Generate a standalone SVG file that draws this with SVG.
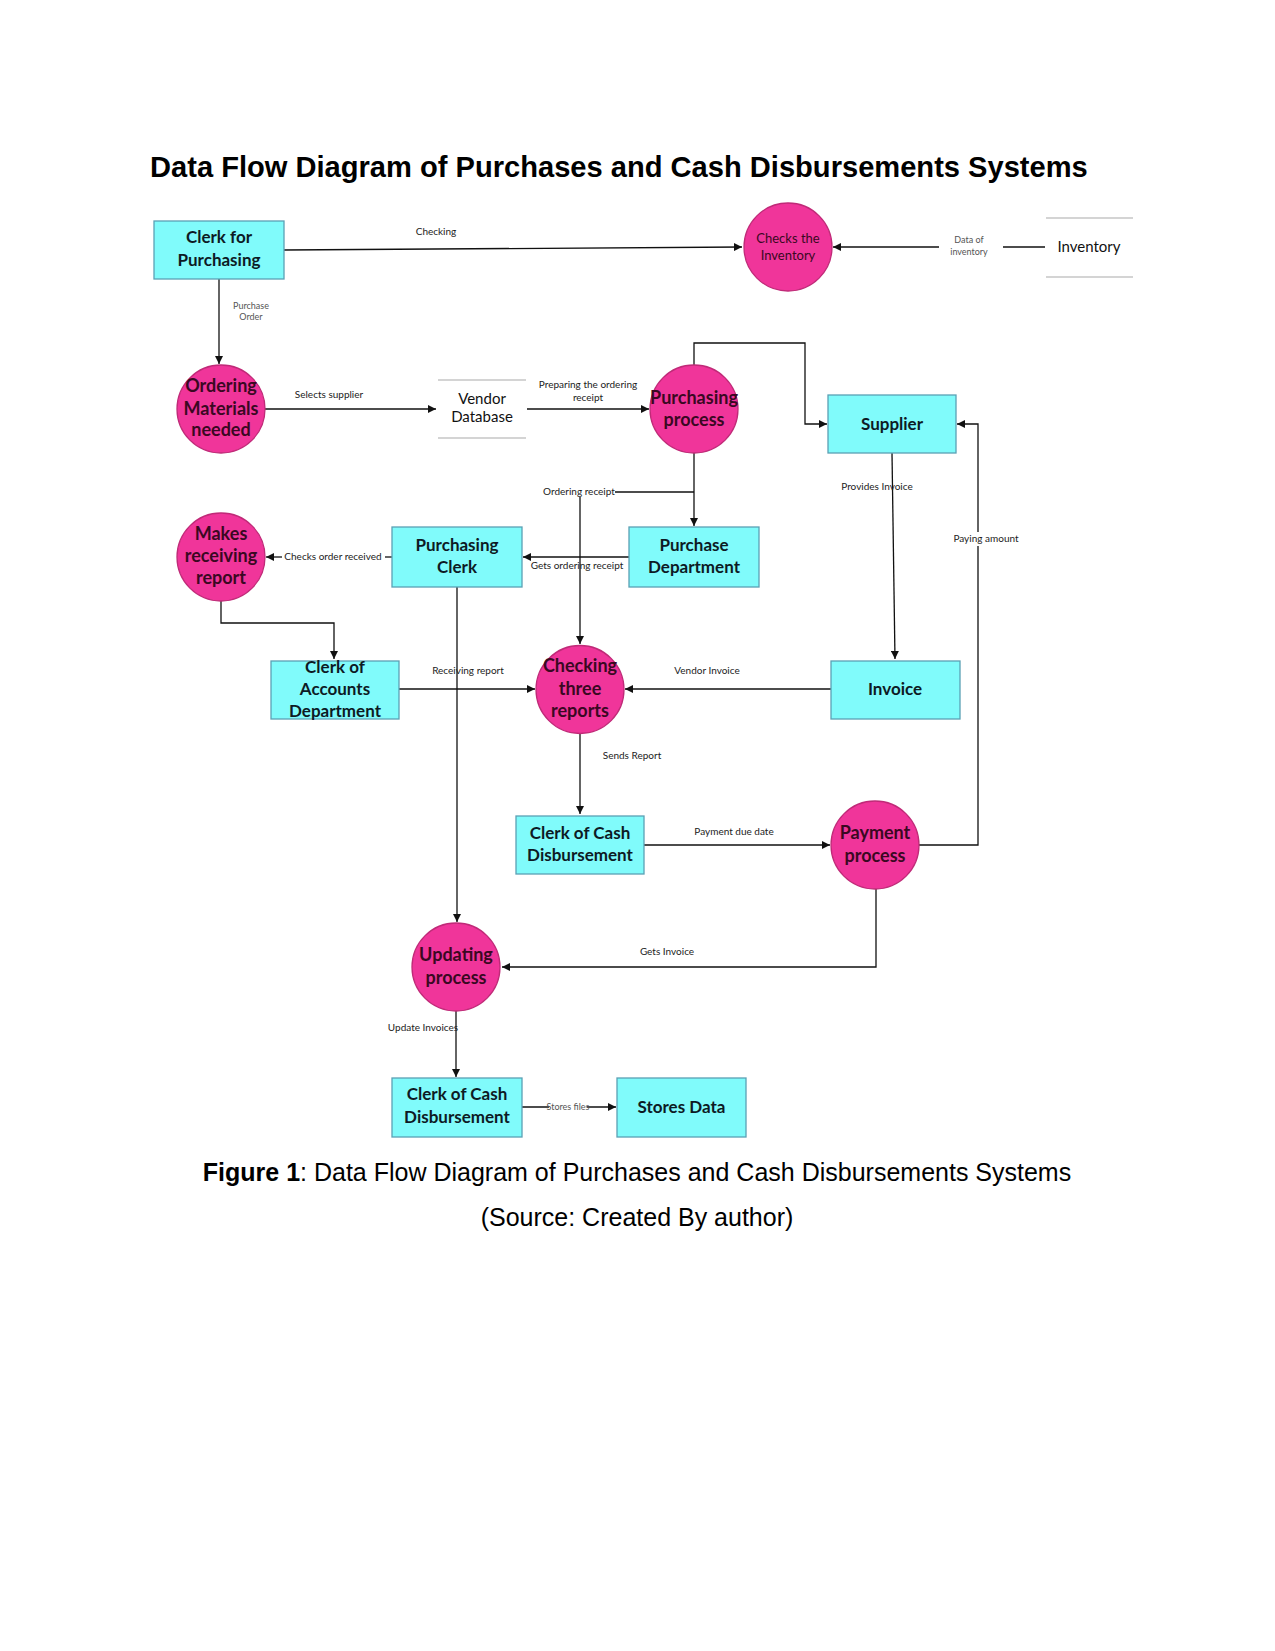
<svg xmlns="http://www.w3.org/2000/svg" width="1275" height="1651" viewBox="0 0 1275 1651">
<defs>
<marker id="arr" viewBox="0 0 10 10" refX="10" refY="5" markerWidth="8" markerHeight="8" markerUnits="userSpaceOnUse" orient="auto">
<path d="M0,0 L10,5 L0,10 z" fill="#111"/>
</marker>
<style>
.box{fill:#80FBFB;stroke:#5aa0b4;stroke-width:1.3}
.proc{fill:#F0359A;stroke:#c02a78;stroke-width:1.3}
.bt{font-family:Lato,"Open Sans",sans-serif;font-weight:bold;font-size:17px;fill:#0d1a24;text-anchor:middle}
.ct{font-family:Lato,"Open Sans",sans-serif;font-weight:bold;font-size:18px;fill:#3a0822;text-anchor:middle}
.ctl{font-family:Lato,"Open Sans",sans-serif;font-size:13px;fill:#3a0822;text-anchor:middle}
.ds{stroke:#aaa;stroke-width:1.2}
.dt{font-family:Lato,"Open Sans",sans-serif;font-size:15px;fill:#111;text-anchor:middle}
.ln{fill:none;stroke:#111;stroke-width:1.3}
.lb{font-family:Lato,"Open Sans",sans-serif;font-size:10px;fill:#222;text-anchor:middle}
.lbs{font-family:Lato,"Open Sans",sans-serif;font-size:9px;fill:#555;text-anchor:middle}
.title{font-family:"Liberation Sans",Arial,sans-serif;font-weight:bold;font-size:29.1px;fill:#000}
.cap{font-family:"Liberation Sans",Arial,sans-serif;font-size:25px;fill:#000;text-anchor:middle}
</style>
</defs>
<rect width="1275" height="1651" fill="#fff"/>
<text class="title" x="150" y="177">Data Flow Diagram of Purchases and Cash Disbursements Systems</text>

<g id="connectors">
<line class="ln" x1="284" y1="250" x2="742" y2="247" marker-end="url(#arr)"/>
<text class="lb" x="436" y="235">Checking</text>
<line class="ln" x1="1045" y1="247" x2="1003" y2="247"/>
<line class="ln" x1="939" y1="247" x2="833" y2="247" marker-end="url(#arr)"/>
<text class="lbs" x="969" y="243">Data of</text>
<text class="lbs" x="969" y="255">inventory</text>
<line class="ln" x1="219" y1="279" x2="219" y2="364" marker-end="url(#arr)"/>
<text class="lbs" x="251" y="309">Purchase</text>
<text class="lbs" x="251" y="320">Order</text>
<line class="ln" x1="265" y1="409" x2="436" y2="409" marker-end="url(#arr)"/>
<text class="lb" x="329" y="398">Selects supplier</text>
<line class="ln" x1="527" y1="409" x2="649" y2="409" marker-end="url(#arr)"/>
<text class="lb" x="588" y="388">Preparing the ordering</text>
<text class="lb" x="588" y="401">receipt</text>
<polyline class="ln" points="694,365 694,343 805,343 805,424 827,424" marker-end="url(#arr)"/>
<line class="ln" x1="694" y1="453" x2="694" y2="526" marker-end="url(#arr)"/>
<line class="ln" x1="694" y1="492" x2="615" y2="492"/>
<text class="lb" x="579" y="495">Ordering receipt</text>
<line class="ln" x1="580" y1="497" x2="580" y2="644" marker-end="url(#arr)"/>
<line class="ln" x1="629" y1="557" x2="523" y2="557" marker-end="url(#arr)"/>
<text class="lb" x="577" y="569">Gets ordering receipt</text>
<line class="ln" x1="392" y1="557" x2="385" y2="557"/>
<text class="lb" x="333" y="560">Checks order received</text>
<line class="ln" x1="282" y1="557" x2="266" y2="557" marker-end="url(#arr)"/>
<polyline class="ln" points="221,601 221,623 334,623 334,659" marker-end="url(#arr)"/>
<line class="ln" x1="399" y1="689" x2="535" y2="689" marker-end="url(#arr)"/>
<line class="ln" x1="457" y1="587" x2="457" y2="922" marker-end="url(#arr)"/>
<text class="lb" x="468" y="674">Receiving report</text>
<line class="ln" x1="831" y1="689" x2="625" y2="689" marker-end="url(#arr)"/>
<text class="lb" x="707" y="674">Vendor Invoice</text>
<line class="ln" x1="892" y1="453" x2="895" y2="659" marker-end="url(#arr)"/>
<text class="lb" x="877" y="490">Provides Invoice</text>
<line class="ln" x1="580" y1="734" x2="580" y2="814" marker-end="url(#arr)"/>
<text class="lb" x="632" y="759">Sends Report</text>
<line class="ln" x1="644" y1="845" x2="830" y2="845" marker-end="url(#arr)"/>
<text class="lb" x="734" y="835">Payment due date</text>
<polyline class="ln" points="919,845 978,845 978,424 957,424" marker-end="url(#arr)"/>
<rect x="953" y="532" width="66" height="14" fill="#fff"/>
<text class="lb" x="986" y="542">Paying amount</text>
<polyline class="ln" points="876,889 876,967 502,967" marker-end="url(#arr)"/>
<text class="lb" x="667" y="955">Gets Invoice</text>
<line class="ln" x1="456" y1="1011" x2="456" y2="1077" marker-end="url(#arr)"/>
<text class="lb" x="423" y="1031">Update Invoices</text>
<line class="ln" x1="522" y1="1107" x2="616" y2="1107" marker-end="url(#arr)"/>
<rect x="549" y="1103" width="38" height="8" fill="#fff"/>
<text class="lbs" x="568" y="1109.5" font-size="7">Stores files</text>
</g>

<g id="clerk-for-purchasing">
<rect class="box" x="154" y="221" width="130" height="58"/>
<text class="bt" x="219" y="243">Clerk for</text>
<text class="bt" x="219" y="266">Purchasing</text>
</g>
<g id="checks-inventory">
<circle class="proc" cx="788" cy="247" r="44"/>
<text class="ctl" x="788" y="243">Checks the</text>
<text class="ctl" x="788" y="260">Inventory</text>
</g>
<g id="inventory">
<line class="ds" x1="1046" y1="218" x2="1133" y2="218"/>
<line class="ds" x1="1046" y1="277" x2="1133" y2="277"/>
<text class="dt" x="1089" y="252">Inventory</text>
</g>
<g id="ordering-materials">
<circle class="proc" cx="221" cy="409" r="44"/>
<text class="ct" x="221" y="392">Ordering</text>
<text class="ct" x="221" y="415">Materials</text>
<text class="ct" x="221" y="436">needed</text>
</g>
<g id="vendor-database">
<line class="ds" x1="438" y1="380" x2="526" y2="380"/>
<line class="ds" x1="438" y1="438" x2="526" y2="438"/>
<text class="dt" x="482" y="404">Vendor</text>
<text class="dt" x="482" y="422">Database</text>
</g>
<g id="purchasing-process">
<circle class="proc" cx="694" cy="409" r="44"/>
<text class="ct" x="694" y="404">Purchasing</text>
<text class="ct" x="694" y="426">process</text>
</g>
<g id="supplier">
<rect class="box" x="828" y="395" width="128" height="58"/>
<text class="bt" x="892" y="430">Supplier</text>
</g>
<g id="makes-receiving-report">
<circle class="proc" cx="221" cy="557" r="44"/>
<text class="ct" x="221" y="540">Makes</text>
<text class="ct" x="221" y="562">receiving</text>
<text class="ct" x="221" y="584">report</text>
</g>
<g id="purchasing-clerk">
<rect class="box" x="392" y="527" width="130" height="60"/>
<text class="bt" x="457" y="551">Purchasing</text>
<text class="bt" x="457" y="573">Clerk</text>
</g>
<g id="purchase-department">
<rect class="box" x="629" y="527" width="130" height="60"/>
<text class="bt" x="694" y="551">Purchase</text>
<text class="bt" x="694" y="573">Department</text>
</g>
<g id="clerk-accounts">
<rect class="box" x="271" y="661" width="128" height="58"/>
<text class="bt" x="335" y="673">Clerk of</text>
<text class="bt" x="335" y="695">Accounts</text>
<text class="bt" x="335" y="717">Department</text>
</g>
<g id="checking-three-reports">
<circle class="proc" cx="580" cy="689.5" r="44"/>
<text class="ct" x="580" y="672">Checking</text>
<text class="ct" x="580" y="695">three</text>
<text class="ct" x="580" y="717">reports</text>
</g>
<g id="invoice">
<rect class="box" x="831" y="661" width="129" height="58"/>
<text class="bt" x="895" y="695">Invoice</text>
</g>
<g id="clerk-cash-1">
<rect class="box" x="516" y="816" width="128" height="58"/>
<text class="bt" x="580" y="839">Clerk of Cash</text>
<text class="bt" x="580" y="861">Disbursement</text>
</g>
<g id="payment-process">
<circle class="proc" cx="875" cy="845" r="44"/>
<text class="ct" x="875" y="839">Payment</text>
<text class="ct" x="875" y="862">process</text>
</g>
<g id="updating-process">
<circle class="proc" cx="456" cy="967" r="44"/>
<text class="ct" x="456" y="961">Updating</text>
<text class="ct" x="456" y="984">process</text>
</g>
<g id="clerk-cash-2">
<rect class="box" x="392" y="1078" width="130" height="59"/>
<text class="bt" x="457" y="1100">Clerk of Cash</text>
<text class="bt" x="457" y="1123">Disbursement</text>
</g>
<g id="stores-data">
<rect class="box" x="617" y="1078" width="129" height="59"/>
<text class="bt" x="681.5" y="1113">Stores Data</text>
</g>

<text class="cap" x="637" y="1181"><tspan font-weight="bold">Figure 1</tspan>: Data Flow Diagram of Purchases and Cash Disbursements Systems</text>
<text class="cap" x="637" y="1226">(Source: Created By author)</text>
</svg>
